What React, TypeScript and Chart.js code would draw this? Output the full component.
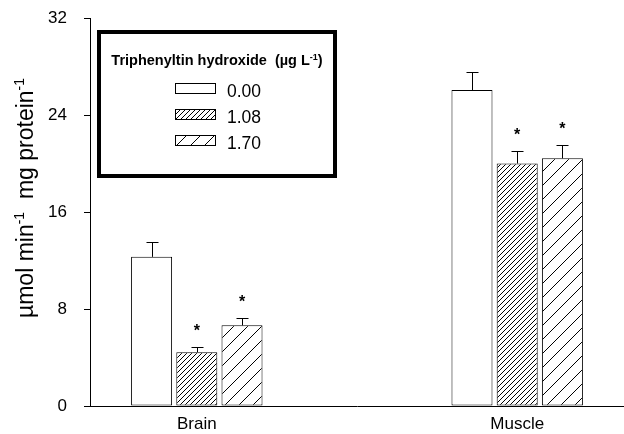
import { useEffect, useRef } from 'react';
import { Chart, registerables } from 'chart.js';

Chart.register(...registerables);

const FONT = "'Liberation Sans', Arial, sans-serif";

// ---- data ----
const categories = ['Brain', 'Muscle'];
const axisLabels = ['', categories[0], '', '', categories[1], ''];
const seriesNames = ['0.00', '1.08', '1.70'];
const control = [12.3, 26.06];
const dose108 = [4.43, 20.0];
const dose170 = [6.65, 20.43];
const errControl = [1.25, 1.5];
const err108 = [0.44, 1.0];
const err170 = [0.61, 1.1];
const sigControl = [false, false];
const sig108 = [true, true];
const sig170 = [true, true];
const yTicks = [0, 8, 16, 24, 32];

const values = [control, dose108, dose170];
const errors = [errControl, err108, err170];
const sigs = [sigControl, sig108, sig170];

function makeHatch(p: number): CanvasPattern | string {
  const c = document.createElement('canvas');
  c.width = p;
  c.height = p;
  const g = c.getContext('2d');
  if (!g) return '#fff';
  g.fillStyle = '#fff';
  g.fillRect(0, 0, p, p);
  g.strokeStyle = '#000';
  g.lineWidth = 1;
  g.beginPath();
  for (const o of [-p, 0, p]) {
    g.moveTo(o, p);
    g.lineTo(o + p, 0);
  }
  g.stroke();
  const pat = g.createPattern(c, 'repeat');
  return pat || '#fff';
}

function drawSegments(
  ctx: CanvasRenderingContext2D,
  segs: { t: string; font: string; rise: number }[],
  cx: number,
  baseline: number
) {
  let total = 0;
  const widths = segs.map((s) => {
    ctx.font = s.font;
    const w = ctx.measureText(s.t).width;
    total += w;
    return w;
  });
  let x = cx - total / 2;
  ctx.textAlign = 'left';
  ctx.textBaseline = 'alphabetic';
  segs.forEach((s, i) => {
    ctx.font = s.font;
    ctx.fillText(s.t, x, baseline - s.rise);
    x += widths[i];
  });
}

export default function App() {
  const ref = useRef<HTMLCanvasElement>(null);

  useEffect(() => {
    document.body.style.margin = '0';
    const canvas = ref.current;
    if (!canvas) return;
    const fills = ['#ffffff', makeHatch(5), makeHatch(14)];

    const errorPlugin = {
      id: 'errorBars',
      afterDatasetsDraw(chart: any) {
        const ctx = chart.ctx as CanvasRenderingContext2D;
        const yScale = chart.scales.y;
        chart.data.datasets.forEach((_ds: any, i: number) => {
          const meta = chart.getDatasetMeta(i);
          meta.data.forEach((el: any, j: number) => {
            const v = values[i][j];
            const e = errors[i][j];
            const top = Math.round(yScale.getPixelForValue(v + e)) + 0.5;
            const x = Math.round(el.x) + 0.5;
            ctx.save();
            ctx.strokeStyle = '#000';
            ctx.lineWidth = 1;
            ctx.beginPath();
            ctx.moveTo(x, el.y);
            ctx.lineTo(x, top);
            ctx.moveTo(x - 6, top);
            ctx.lineTo(x + 6, top);
            ctx.stroke();
            if (sigs[i][j]) {
              ctx.fillStyle = '#000';
              ctx.font = `bold 16px ${FONT}`;
              ctx.textAlign = 'center';
              ctx.textBaseline = 'alphabetic';
              ctx.fillText('*', el.x, top - 12);
            }
            ctx.restore();
          });
        });
      },
    };

    const decorPlugin = {
      id: 'decor',
      afterDraw(chart: any) {
        const ctx = chart.ctx as CanvasRenderingContext2D;
        const area = chart.chartArea;
        // Y axis title with superscripts
        ctx.save();
        ctx.fillStyle = '#000';
        ctx.translate(33, (area.top + area.bottom) / 2 - 14);
        ctx.rotate(-Math.PI / 2);
        drawSegments(
          ctx,
          [
            { t: 'µmol min', font: `23px ${FONT}`, rise: 0 },
            { t: '-1', font: `14px ${FONT}`, rise: 9 },
            { t: '  mg protein', font: `23px ${FONT}`, rise: 0 },
            { t: '-1', font: `14px ${FONT}`, rise: 9 },
          ],
          0,
          0
        );
        ctx.restore();

        // Legend
        const bx = area.left + 9;
        const by = area.top + 14;
        const bw = 236;
        const bh = 144;
        ctx.save();
        ctx.fillStyle = '#fff';
        ctx.fillRect(bx, by, bw, bh);
        ctx.strokeStyle = '#000';
        ctx.lineWidth = 4;
        ctx.strokeRect(bx, by, bw, bh);
        ctx.fillStyle = '#000';
        drawSegments(
          ctx,
          [
            { t: 'Triphenyltin hydroxide  (µg L', font: `bold 14.5px ${FONT}`, rise: 0 },
            { t: '-1', font: `bold 9px ${FONT}`, rise: 5 },
            { t: ')', font: `bold 14.5px ${FONT}`, rise: 0 },
          ],
          bx + bw / 2,
          by + 33
        );
        seriesNames.forEach((name, k) => {
          const sx = bx + 76.5;
          const sy = by + 51.5 + 26 * k;
          ctx.fillStyle = fills[k] as any;
          ctx.fillRect(sx, sy, 40, 10);
          ctx.strokeStyle = '#000';
          ctx.lineWidth = 1;
          ctx.strokeRect(sx, sy, 40, 10);
          ctx.fillStyle = '#000';
          ctx.font = `17.5px ${FONT}`;
          ctx.textAlign = 'left';
          ctx.textBaseline = 'alphabetic';
          ctx.fillText(name, bx + 128, by + 64.5 + 26 * k);
        });
        ctx.restore();
      },
    };

    const chart = new Chart(canvas, {
      type: 'bar',
      data: {
        labels: axisLabels,
        datasets: seriesNames.map((name, i) => ({
          label: name,
          data: categories.map((c, j) => ({ x: c, y: values[i][j] })),
          backgroundColor: fills[i] as any,
          borderColor: '#000',
          borderWidth: 1,
          borderSkipped: false,
          categoryPercentage: 1.27,
          barPercentage: 0.907,
        })),
      },
      options: {
        responsive: false,
        animation: false,
        devicePixelRatio: 1,
        layout: { padding: { top: 18, right: 0, left: 0, bottom: 0 } },
        plugins: {
          legend: { display: false },
          tooltip: { enabled: false },
        },
        scales: {
          x: {
            type: 'category',
            offset: false,
            grid: { display: true, drawOnChartArea: false, drawTicks: false, color: '#000' },
            border: { display: true, color: '#000', width: 1 },
            ticks: {
              autoSkip: false,
              maxRotation: 0,
              color: '#000',
              font: { family: FONT, size: 17 },
              padding: 8,
            },
            afterFit: (s: any) => {
              s.height = 28;
              s.paddingLeft = 0;
              s.paddingRight = 0;
            },
          },
          y: {
            min: 0,
            max: 32,
            afterBuildTicks: (s: any) => {
              s.ticks = yTicks.map((v) => ({ value: v }));
            },
            ticks: {
              color: '#000',
              font: { family: FONT, size: 17 },
              padding: 17,
            },
            grid: { drawOnChartArea: false, drawTicks: true, tickLength: 6, color: '#000' },
            border: { display: true, color: '#000', width: 1 },
            afterFit: (s: any) => {
              s.width = 90;
              s.paddingTop = 0;
              s.paddingBottom = 0;
            },
          },
        },
      } as any,
      plugins: [errorPlugin, decorPlugin],
    });

    return () => chart.destroy();
  }, []);

  return <canvas ref={ref} width={624} height={434} style={{ display: 'block' }} />;
}
